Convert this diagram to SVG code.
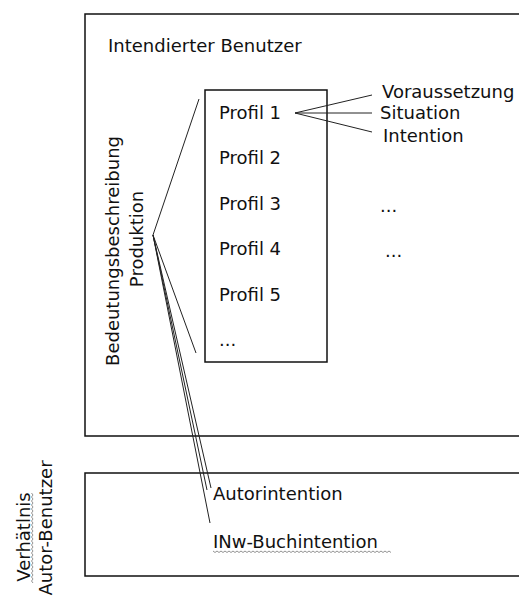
<svg xmlns="http://www.w3.org/2000/svg" width="519" height="600" viewBox="0 0 519 600">
<style>
text{font-family:"DejaVu Sans","Verdana",sans-serif;font-size:18px;fill:#111}
.box{fill:none;stroke:#111;stroke-width:1.5}
.ln{fill:none;stroke:#222;stroke-width:1}
.sq{fill:none;stroke:#777;stroke-width:0.8}
</style>
<rect width="519" height="600" fill="#fff"/>
<g id="intendierter-benutzer">
<path class="box" d="M530,14 H85 V436 H530"/>
<text x="108" y="52">Intendierter Benutzer</text>
</g>
<g id="bedeutungsbeschreibung">
<text transform="translate(119,251) rotate(-90)" text-anchor="middle">Bedeutungsbeschreibung</text>
<text transform="translate(143,239) rotate(-90)" text-anchor="middle">Produktion</text>
</g>
<g id="profile">
<rect class="box" x="205" y="90" width="122" height="272"/>
<text x="219" y="119">Profil 1</text>
<text x="219" y="164">Profil 2</text>
<text x="219" y="210">Profil 3</text>
<text x="219" y="255">Profil 4</text>
<text x="219" y="301">Profil 5</text>
<text x="219" y="346">...</text>
</g>
<g id="profil-details">
<text x="382" y="98">Voraussetzung</text>
<text x="380" y="119">Situation</text>
<text x="383" y="142">Intention</text>
<text x="380" y="212">...</text>
<text x="385" y="257">...</text>
</g>
<g id="verhaeltnis">
<path class="box" d="M530,473 H85 V576 H530"/>
<text transform="translate(30,537) rotate(-90)" text-anchor="middle">Verhätlnis</text>
<path class="sq" d="M33,583 l-1.5,-2 l1.5,-2 l-1.5,-2 l1.5,-2 l-1.5,-2 l1.5,-2 l-1.5,-2 l1.5,-2 l-1.5,-2 l1.5,-2 l-1.5,-2 l1.5,-2 l-1.5,-2 l1.5,-2 l-1.5,-2 l1.5,-2 l-1.5,-2 l1.5,-2 l-1.5,-2 l1.5,-2 l-1.5,-2 l1.5,-2 l-1.5,-2 l1.5,-2 l-1.5,-2 l1.5,-2 l-1.5,-2 l1.5,-2 l-1.5,-2 l1.5,-2 l-1.5,-2 l1.5,-2 l-1.5,-2 l1.5,-2 l-1.5,-2 l1.5,-2 l-1.5,-2 l1.5,-2 l-1.5,-2 l1.5,-2 l-1.5,-2 l1.5,-2 l-1.5,-2 l1.5,-2 l-1.5,-2"/>
<text transform="translate(52,528) rotate(-90)" text-anchor="middle">Autor-Benutzer</text>
<text x="213" y="500">Autorintention</text>
<text x="213" y="548">INw-Buchintention</text>
<path class="sq" d="M213,551 l2,1.5 l2,-1.5 l2,1.5 l2,-1.5 l2,1.5 l2,-1.5 l2,1.5 l2,-1.5 l2,1.5 l2,-1.5 l2,1.5 l2,-1.5 l2,1.5 l2,-1.5 l2,1.5 l2,-1.5 l2,1.5 l2,-1.5 l2,1.5 l2,-1.5 l2,1.5 l2,-1.5 l2,1.5 l2,-1.5 l2,1.5 l2,-1.5 l2,1.5 l2,-1.5 l2,1.5 l2,-1.5 l2,1.5 l2,-1.5 l2,1.5 l2,-1.5 l2,1.5 l2,-1.5 l2,1.5 l2,-1.5 l2,1.5 l2,-1.5 l2,1.5 l2,-1.5 l2,1.5 l2,-1.5 l2,1.5 l2,-1.5 l2,1.5 l2,-1.5 l2,1.5 l2,-1.5 l2,1.5 l2,-1.5 l2,1.5 l2,-1.5 l2,1.5 l2,-1.5 l2,1.5 l2,-1.5 l2,1.5 l2,-1.5 l2,1.5 l2,-1.5 l2,1.5 l2,-1.5 l2,1.5 l2,-1.5 l2,1.5 l2,-1.5 l2,1.5 l2,-1.5 l2,1.5 l2,-1.5 l2,1.5 l2,-1.5 l2,1.5 l2,-1.5 l2,1.5 l2,-1.5 l2,1.5 l2,-1.5 l2,1.5 l2,-1.5 l2,1.5 l2,-1.5 l2,1.5 l2,-1.5 l2,1.5 l2,-1.5 l2,1.5"/>
</g>
<g id="connectors">
<line class="ln" x1="153" y1="235" x2="199" y2="99"/>
<line class="ln" x1="153" y1="235" x2="196" y2="353"/>
<line class="ln" x1="153" y1="235" x2="211" y2="488"/>
<line class="ln" x1="153" y1="235" x2="207" y2="490"/>
<line class="ln" x1="153" y1="235" x2="210" y2="523"/>
<line class="ln" x1="295" y1="113" x2="372" y2="95"/>
<line class="ln" x1="295" y1="113" x2="372" y2="113"/>
<line class="ln" x1="295" y1="113" x2="372" y2="132"/>
</g>
</svg>
